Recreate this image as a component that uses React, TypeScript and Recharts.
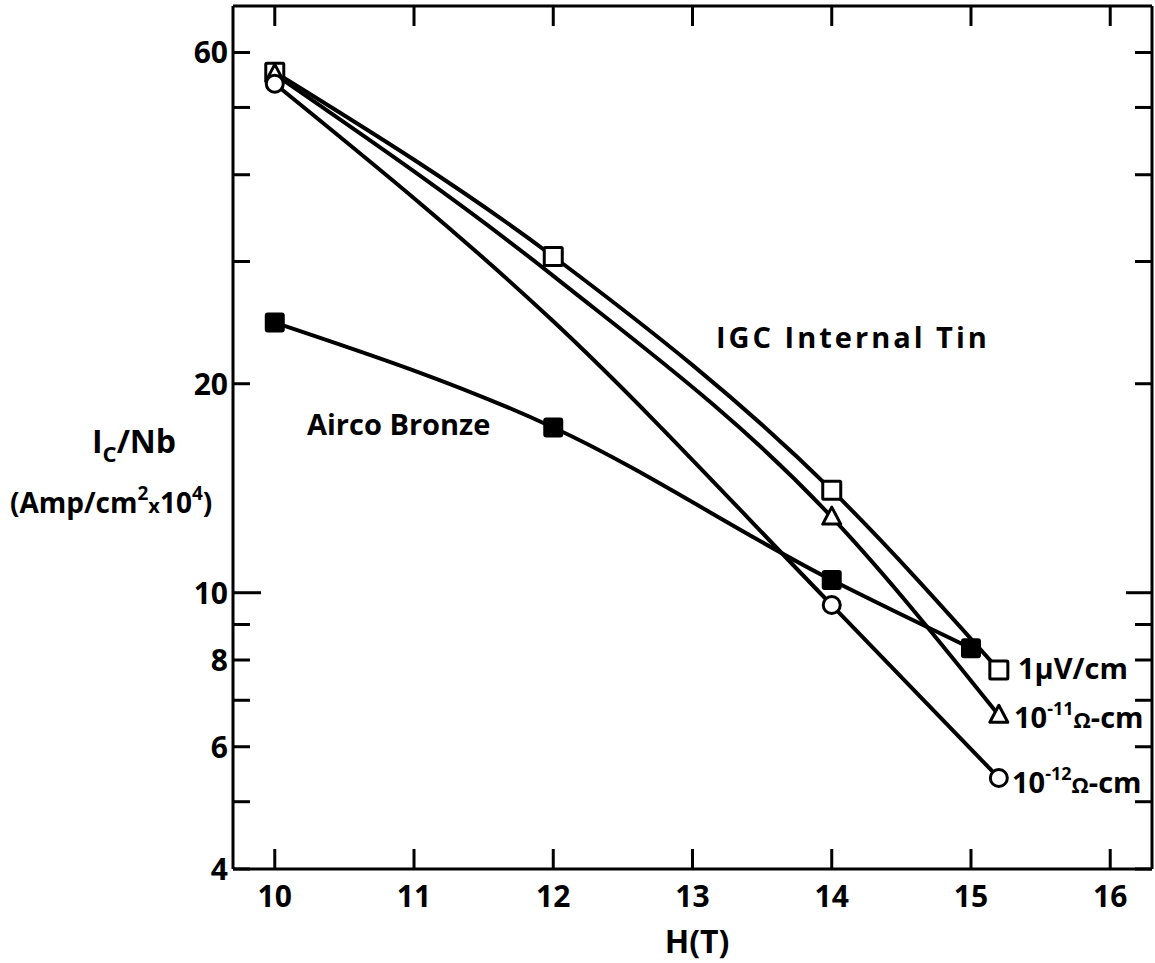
import React from 'react';
import { LineChart, Line, XAxis, YAxis, Customized } from 'recharts';

const fieldTicks = [10, 11, 12, 13, 14, 15, 16];
const icTicks = [4, 5, 6, 7, 8, 9, 10, 20, 30, 40, 50, 60];
const icLabelled = [4, 6, 8, 10, 20, 60];

// IGC internal tin, 1 uV/cm criterion
const tinH = [10, 12, 14, 15.2];
const microVolt = [56.2, 30.5, 14.05, 7.74];
// IGC internal tin, resistivity criteria (measured points)
const rhoH = [10, 14, 15.2];
const rho11 = [55.8, 12.85, 6.66];
const rho12 = [54.1, 9.6, 5.41];
// hand-drawn curves through them (the 12 T values have no marker)
const rho11Curve = [55.8, 28.6, 12.85, 6.66];
const rho12Curve = [54.1, 24.6, 9.6, 5.41];
// Airco bronze
const bronzeH = [10, 12, 14, 15];
const bronze = [24.5, 17.3, 10.43, 8.32];

const toPoints = (h: number[], v: number[]) => h.map((x, i) => ({ h: x, ic: v[i] }));

const font = '"Open Sans", sans-serif';
const ink = '#000';

const OpenSquare = ({ cx, cy }: any) => (
  <rect x={cx - 9} y={cy - 9} width={18} height={18} rx={1} fill='#fff' stroke={ink} strokeWidth={3} />
);
const OpenTriangle = ({ cx, cy }: any) => (
  <polygon
    points={`${cx},${cy - 10} ${cx - 9},${cy + 7} ${cx + 9},${cy + 7}`}
    fill='#fff'
    stroke={ink}
    strokeWidth={3}
    strokeLinejoin='round'
  />
);
const OpenCircle = ({ cx, cy }: any) => (
  <circle cx={cx} cy={cy} r={8.5} fill='#fff' stroke={ink} strokeWidth={3} />
);
const FilledSquare = ({ cx, cy }: any) => (
  <rect x={cx - 10} y={cy - 10} width={20} height={20} rx={3} fill={ink} />
);

const BottomTick = ({ x, y, payload }: any) => (
  <g>
    <line x1={x} y1={y} x2={x} y2={y - 20} stroke={ink} strokeWidth={3} />
    <text x={x} y={y + 38} textAnchor='middle' fontFamily={font} fontWeight={700} fontSize={30} fill={ink}>
      {payload.value}
    </text>
  </g>
);
const TopTick = ({ x, y }: any) => (
  <line x1={x} y1={y} x2={x} y2={y + 20} stroke={ink} strokeWidth={3} />
);
const LeftTick = ({ x, y, payload }: any) => {
  const len = payload.value === 10 ? 28 : 17;
  return (
    <g>
      <line x1={x} y1={y} x2={x + len} y2={y} stroke={ink} strokeWidth={3} />
      {icLabelled.includes(payload.value) && (
        <text x={x - 5} y={y} dy='0.36em' textAnchor='end' fontFamily={font} fontWeight={700} fontSize={30} fill={ink}>
          {payload.value}
        </text>
      )}
    </g>
  );
};
const RightTick = ({ x, y, payload }: any) => {
  const len = payload.value === 10 ? 26 : 17;
  return <line x1={x} y1={y} x2={x - len} y2={y} stroke={ink} strokeWidth={3} />;
};

const Notes = () => (
  <g fontFamily={font} fontWeight={700} fill={ink}>
    <text x={716} y={348} fontSize={29} letterSpacing={3}>IGC Internal Tin</text>
    <text x={307} y={435} fontSize={29}>Airco Bronze</text>
    <text x={92} y={453} fontSize={32}>
      I<tspan fontSize={22} dy={9}>C</tspan>
      <tspan dy={-9}>/Nb</tspan>
    </text>
    <text x={10} y={513} fontSize={28}>
      (Amp/cm<tspan fontSize={19} dy={-13}>2</tspan>
      <tspan dy={13} fontSize={20}>x</tspan>
      <tspan>10</tspan>
      <tspan fontSize={19} dy={-13}>4</tspan>
      <tspan dy={13}>)</tspan>
    </text>
    <text x={697} y={953} fontSize={32} textAnchor='middle'>H(T)</text>
    <text x={1018} y={679} fontSize={29}>1μV/cm</text>
    <text x={1014} y={728} fontSize={29}>
      10<tspan fontSize={18} dy={-13}>-11</tspan>
      <tspan fontSize={22} dy={13}>Ω</tspan>
      <tspan>-cm</tspan>
    </text>
    <text x={1012} y={793} fontSize={29}>
      10<tspan fontSize={18} dy={-13}>-12</tspan>
      <tspan fontSize={22} dy={13}>Ω</tspan>
      <tspan>-cm</tspan>
    </text>
  </g>
);

export default function App() {
  const axisLine = { stroke: ink, strokeWidth: 3 };
  const curve = (h: number[], v: number[], dot: any, line = true) => (
    <Line
      xAxisId='b'
      yAxisId='l'
      data={toPoints(h, v)}
      dataKey='ic'
      type='monotone'
      stroke={line ? ink : 'none'}
      strokeWidth={4}
      dot={dot}
      activeDot={false}
      legendType='none'
      isAnimationActive={false}
    />
  );
  return (
    <div style={{ position: 'absolute', left: 0, top: 0, background: '#fff' }}>
      <LineChart width={1155} height={963} margin={{ top: 0, right: 0, bottom: 0, left: 0 }}>
        <XAxis
          xAxisId='b'
          dataKey='h'
          type='number'
          domain={[9.7, 16.3]}
          allowDataOverflow
          ticks={fieldTicks}
          interval={0}
          height={94}
          tickSize={0}
          tickMargin={0}
          tickLine={false}
          axisLine={axisLine}
          tick={<BottomTick />}
        />
        <XAxis
          xAxisId='t'
          orientation='top'
          dataKey='h'
          type='number'
          domain={[9.7, 16.3]}
          allowDataOverflow
          ticks={fieldTicks}
          interval={0}
          height={6}
          tickSize={0}
          tickMargin={0}
          tickLine={false}
          axisLine={axisLine}
          tick={<TopTick />}
        />
        <YAxis
          yAxisId='l'
          dataKey='ic'
          scale='log'
          type='number'
          domain={[4, 70]}
          allowDataOverflow
          ticks={icTicks}
          interval={0}
          width={233}
          tickSize={0}
          tickMargin={0}
          tickLine={false}
          axisLine={axisLine}
          tick={<LeftTick />}
        />
        <YAxis
          yAxisId='r'
          orientation='right'
          dataKey='ic'
          scale='log'
          type='number'
          domain={[4, 70]}
          allowDataOverflow
          ticks={icTicks}
          interval={0}
          width={3}
          tickSize={0}
          tickMargin={0}
          tickLine={false}
          axisLine={axisLine}
          tick={<RightTick />}
        />
        {curve(bronzeH, bronze, <FilledSquare />)}
        {curve(tinH, rho11Curve, false)}
        {curve(tinH, rho12Curve, false)}
        {curve(tinH, microVolt, <OpenSquare />)}
        {curve(rhoH, rho11, <OpenTriangle />, false)}
        {curve(rhoH, rho12, <OpenCircle />, false)}
        <Customized component={<Notes />} />
      </LineChart>
    </div>
  );
}
